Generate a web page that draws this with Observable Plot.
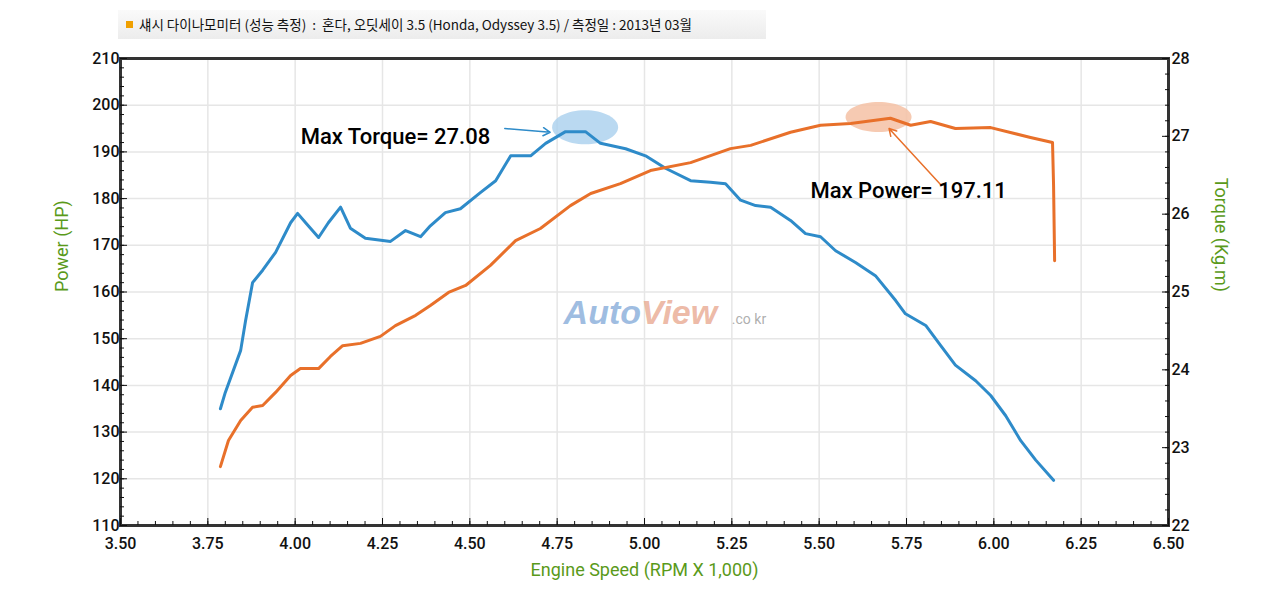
<!DOCTYPE html>
<html><head><meta charset="utf-8">
<script src="https://cdn.jsdelivr.net/npm/d3@7"></script>
<script src="https://cdn.jsdelivr.net/npm/@observablehq/plot@0.6"></script>
<style>
body{margin:0;background:#fff;font-family:Roboto,"Noto Sans CJK KR",sans-serif;}
#wrap{position:relative;width:1280px;height:600px;}
#title{position:absolute;left:118px;top:10px;width:648px;height:29px;background:linear-gradient(#fafafa,#ececec);font-size:13.5px;line-height:29px;color:#111;font-family:"Noto Sans CJK KR",sans-serif;}
#title span.sq{display:inline-block;width:7px;height:7px;background:#f0a000;margin:0 6px 2px 8px;}
#chart{position:absolute;left:0;top:0;}
</style></head><body>
<div id="wrap"><div id="chart"></div>
<div id="title"><span class="sq"></span>섀시 다이나모미터 (성능 측정) &nbsp;:&nbsp; 혼다, 오딧세이 3.5 (Honda, Odyssey 3.5) / 측정일 : 2013년 03월</div></div>
<script>
const torqueRpm=[3.786,3.80,3.844,3.858,3.878,3.907,3.944,3.987,4.007,4.030,4.067,4.095,4.130,4.158,4.201,4.273,4.316,4.359,4.387,4.430,4.473,4.531,4.574,4.617,4.674,4.717,4.774,4.831,4.874,4.946,5.003,5.060,5.132,5.189,5.232,5.275,5.318,5.361,5.418,5.461,5.504,5.547,5.604,5.661,5.719,5.747,5.805,5.848,5.890,5.948,5.991,6.034,6.077,6.120,6.171];
const torqueVal=[23.50,23.71,24.25,24.63,25.12,25.28,25.51,25.89,26.01,25.89,25.70,25.89,26.09,25.82,25.69,25.65,25.79,25.71,25.85,26.02,26.07,26.28,26.43,26.75,26.75,26.91,27.06,27.06,26.91,26.84,26.75,26.59,26.43,26.41,26.39,26.18,26.11,26.09,25.92,25.75,25.71,25.53,25.38,25.21,24.89,24.72,24.57,24.31,24.06,23.86,23.67,23.41,23.09,22.84,22.58];
const powerRpm=[3.786,3.809,3.844,3.878,3.907,3.944,3.987,4.015,4.067,4.101,4.136,4.187,4.244,4.287,4.345,4.387,4.439,4.488,4.559,4.631,4.702,4.788,4.846,4.931,5.017,5.132,5.246,5.304,5.418,5.504,5.590,5.704,5.762,5.819,5.890,5.991,6.105,6.168,6.171,6.174];
const powerVal=[122.6,128.2,132.5,135.3,135.7,138.5,142.1,143.6,143.6,146.2,148.5,149.0,150.5,152.8,155.0,157.1,159.9,161.4,165.7,171.0,173.6,178.5,181.1,183.2,186.0,187.7,190.7,191.4,194.2,195.7,196.1,197.2,195.7,196.5,195.0,195.2,193.1,192.0,182.8,166.7];
const xTicks=[3.5,3.75,4,4.25,4.5,4.75,5,5.25,5.5,5.75,6,6.25,6.5];
const powerTicks=[110,120,130,140,150,160,170,180,190,200,210];
const torqueTicks=[22,23,24,25,26,27,28];
const annotations=[{rpm:4.287,p:193.1,label:"Max Torque= 27.08"},{rpm:5.756,p:181.7,label:"Max Power= 197.11"}];

const toP=t=>110+(t-22)*100/6;
const torque=torqueRpm.map((x,i)=>({x,y:toP(torqueVal[i])}));
const power=powerRpm.map((x,i)=>({x,y:powerVal[i]}));
const ellipse=(rx,ry)=>({draw(c){const k=0.5523;c.moveTo(rx,0);c.bezierCurveTo(rx,ry*k,rx*k,ry,0,ry);c.bezierCurveTo(-rx*k,ry,-rx,ry*k,-rx,0);c.bezierCurveTo(-rx,-ry*k,-rx*k,-ry,0,-ry);c.bezierCurveTo(rx*k,-ry,rx,-ry*k,rx,0);c.closePath();}});
const minorX=d3.range(3.5,6.5001,0.05), minorY=d3.range(110,210.01,2), minorT=d3.range(22,28.001,0.2).map(toP);
const green="#5a9a1a";
const chart=Plot.plot({
  width:1280,height:600,marginTop:58,marginBottom:75,marginLeft:120,marginRight:112,
  style:{fontFamily:"Roboto, sans-serif",fontSize:"16px",color:"#111"},
  x:{type:"linear",domain:[3.5,6.5]},y:{type:"linear",domain:[110,210]},
  marks:[
    Plot.gridX(xTicks,{stroke:"#e6e6e6",strokeOpacity:1,strokeWidth:1.5}),
    Plot.gridY(powerTicks,{stroke:"#e6e6e6",strokeOpacity:1,strokeWidth:1.5}),
    Plot.dot([{x:4.83,y:195.3}],{x:"x",y:"y",symbol:ellipse(33,17),fill:"#a9d0ee",fillOpacity:0.8,stroke:null}),
    Plot.dot([{x:5.67,y:197.5}],{x:"x",y:"y",symbol:ellipse(33,15),fill:"#f5c1a4",fillOpacity:0.85,stroke:null}),
    Plot.text(["Auto"],{x:[4.99],y:[155.5],textAnchor:"end",fontSize:34,fontWeight:"bold",fontStyle:"italic",fill:"#7fa8d8",fillOpacity:0.75,fontFamily:"Arial"}),
    Plot.text(["View"],{x:[4.99],y:[155.5],textAnchor:"start",fontSize:34,fontWeight:"bold",fontStyle:"italic",fill:"#e8a890",fillOpacity:0.8,fontFamily:"Arial"}),
    Plot.text([".co kr"],{x:[5.25],y:[154.2],textAnchor:"start",fontSize:14,fill:"#999",fillOpacity:0.8}),
    Plot.line(torque,{x:"x",y:"y",stroke:"#2e8bc9",strokeWidth:3}),
    Plot.line(power,{x:"x",y:"y",stroke:"#e8702a",strokeWidth:3}),
    Plot.arrow([{x1:4.60,y1:195.0,x2:4.73,y2:194.2}],{x1:"x1",y1:"y1",x2:"x2",y2:"y2",stroke:"#2e8bc9",strokeWidth:1.5,headLength:8,bend:0}),
    Plot.arrow([{x1:5.85,y1:182.8,x2:5.70,y2:195.0}],{x1:"x1",y1:"y1",x2:"x2",y2:"y2",stroke:"#e8702a",strokeWidth:1.5,headLength:8,bend:0}),
    Plot.text(annotations,{x:"rpm",y:"p",text:"label",fontSize:22,fontWeight:500,fill:"#000"}),
    Plot.frame({stroke:"#333",strokeWidth:3}),
    Plot.axisX({ticks:xTicks,tickFormat:d3.format(".2f"),tickSize:-7,tickPadding:19,label:null,fontSize:16,fontWeight:500}),
    Plot.axisY({ticks:powerTicks,tickSize:-7,tickPadding:8,label:null,fontSize:16,fontWeight:500}),
    Plot.axisY({anchor:"right",ticks:torqueTicks.map(toP),tickFormat:p=>Math.round((p-110)*6/100+22),tickSize:-7,tickPadding:10,label:null,fontSize:16,fontWeight:500}),
    Plot.axisY({ticks:minorY,tickSize:-4,tickFormat:()=>"",label:null}),
    Plot.axisX({ticks:minorX,tickSize:-4,tickFormat:()=>"",label:null}),
    Plot.axisY({anchor:"right",ticks:minorT,tickSize:-4,tickFormat:()=>"",label:null}),
    Plot.text(["Engine Speed (RPM X 1,000)"],{frameAnchor:"bottom",dy:50,fontSize:18,fill:green}),
    Plot.text(["Power (HP)"],{frameAnchor:"left",dx:-58,rotate:-90,fontSize:18,fill:green}),
    Plot.text(["Torque (Kg.m)"],{frameAnchor:"right",dx:52,rotate:90,fontSize:18,fill:green})
  ]
});
document.getElementById("chart").appendChild(chart);
</script></body></html>
